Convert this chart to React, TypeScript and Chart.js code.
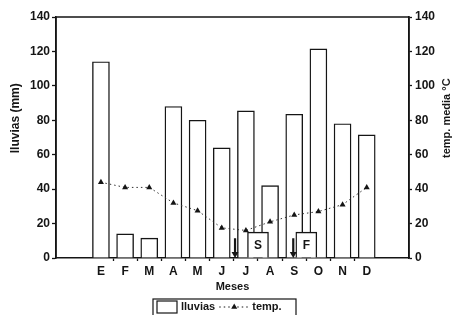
import React, { useEffect, useRef } from 'react';
import { Chart, registerables } from 'chart.js';

Chart.register(...registerables);

// ---- data ----
const months = ['E', 'F', 'M', 'A', 'M', 'J', 'J', 'A', 'S', 'O', 'N', 'D'];
const rainfall = [114, 14, 11.5, 88, 80, 64, 85.5, 42, 83.5, 121.5, 78, 71.5];
const temperature = [44, 41, 41, 32, 27.5, 17.5, 16, 21, 25, 27, 31, 41];
const periodLabels = ['S', 'F'];
const periodPositions = [6.5, 8.5];
const periodHeights = [15, 15];
const arrowPositions = [5.55, 7.96];
const arrowTop = 11.5;
const arrowTip = 2.3;
const xMin = -1.86;
const xMax = 12.75;
const yMin = 0;
const yMax = 140;
const yStep = 20;
const xTitle = 'Meses';
const yLeftTitle = 'lluvias (mm)';
const yRightTitle = 'temp. media °C';
const legendRain = 'lluvias';
const legendTemp = 'temp.';

const INK = '#151515';
const FONT = '"Liberation Sans", Arial, Helvetica, sans-serif';

const App = () => {
  const ref = useRef<HTMLCanvasElement | null>(null);

  useEffect(() => {
    if (!ref.current) return;
    Chart.defaults.font.family = FONT;

    const boxLabelPlugin = {
      id: 'boxLabels',
      afterDatasetsDraw(chart: any) {
        const meta = chart.getDatasetMeta(2);
        const ctx = chart.ctx;
        ctx.save();
        ctx.fillStyle = INK;
        ctx.font = `bold 12px ${FONT}`;
        ctx.textAlign = 'center';
        ctx.textBaseline = 'middle';
        meta.data.forEach((el: any, i: number) => {
          ctx.fillText(periodLabels[i], el.x, (el.y + el.base) / 2 + 1);
        });
        ctx.restore();
      },
    };

    const framePlugin = {
      id: 'frame',
      afterDatasetsDraw(chart: any) {
        const { left, right, top, bottom } = chart.chartArea;
        const ctx = chart.ctx;
        ctx.save();
        ctx.strokeStyle = INK;
        ctx.lineWidth = 1.5;
        ctx.beginPath();
        ctx.moveTo(left, bottom);
        ctx.lineTo(left, top);
        ctx.lineTo(right, top);
        ctx.lineTo(right, bottom);
        ctx.stroke();
        ctx.restore();
      },
    };

    const titlesPlugin = {
      id: 'titles',
      afterDraw(chart: any) {
        const ctx = chart.ctx;
        const { top, bottom } = chart.chartArea;
        const cy = top + (bottom - top) * 0.42;
        ctx.save();
        ctx.fillStyle = INK;
        ctx.textAlign = 'center';
        ctx.textBaseline = 'middle';
        ctx.font = `bold 12px ${FONT}`;
        ctx.translate(16, cy);
        ctx.rotate(-Math.PI / 2);
        ctx.fillText(yLeftTitle, 0, 0);
        ctx.restore();
        ctx.save();
        ctx.fillStyle = INK;
        ctx.textAlign = 'center';
        ctx.textBaseline = 'middle';
        ctx.font = `bold 11px ${FONT}`;
        ctx.translate(chart.width - 5, cy);
        ctx.rotate(-Math.PI / 2);
        ctx.fillText(yRightTitle, 0, 0);
        ctx.restore();
      },
    };

    const legendPlugin = {
      id: 'customLegend',
      afterDraw(chart: any) {
        const ctx = chart.ctx;
        ctx.save();
        ctx.font = `bold 11px ${FONT}`;
        const boxW = 143;
        const boxTop = chart.chartArea.bottom + 41;
        const boxLeft = chart.width / 2 - 1.5 - boxW / 2;
        const cy = boxTop + 8;
        ctx.strokeStyle = INK;
        ctx.lineWidth = 1.2;
        ctx.strokeRect(boxLeft, boxTop, boxW, 30);
        let x = boxLeft + 4;
        // rain swatch
        ctx.fillStyle = '#fff';
        ctx.fillRect(x, boxTop + 2, 20, 12);
        ctx.strokeRect(x, boxTop + 2, 20, 12);
        x += 24;
        ctx.fillStyle = INK;
        ctx.textAlign = 'left';
        ctx.textBaseline = 'middle';
        ctx.fillText(legendRain, x, cy);
        x += ctx.measureText(legendRain).width + 4;
        // temp sample
        ctx.setLineDash([1.5, 3]);
        ctx.lineWidth = 1;
        ctx.beginPath();
        ctx.moveTo(x, cy);
        ctx.lineTo(x + 30, cy);
        ctx.stroke();
        ctx.setLineDash([]);
        const tx = x + 15;
        const r = 3.5;
        ctx.beginPath();
        ctx.moveTo(tx, cy - r);
        ctx.lineTo(tx + r * 0.866, cy + r / 2);
        ctx.lineTo(tx - r * 0.866, cy + r / 2);
        ctx.closePath();
        ctx.fill();
        x += 33;
        ctx.fillText(legendTemp, x, cy);
        ctx.restore();
      },
    };

    const halfTicks: number[] = [];
    for (let i = 0; i < months.length; i++) {
      halfTicks.push(i);
      if (i < months.length - 1) halfTicks.push(i + 0.5);
    }

    const arrowDatasets = arrowPositions.map((p) => ({
      type: 'line' as const,
      label: 'arrow',
      data: [
        { x: p, y: arrowTop },
        { x: p, y: arrowTip },
      ],
      yAxisID: 'yL',
      borderColor: INK,
      borderWidth: 2.2,
      pointRadius: [0, 4],
      pointStyle: 'triangle',
      rotation: 180,
      pointBackgroundColor: INK,
      pointBorderColor: INK,
      pointBorderWidth: 0,
      order: 0,
    }));

    const chart = new Chart(ref.current, {
      data: {
        datasets: [
          {
            type: 'bar',
            label: legendRain,
            data: rainfall.map((v, i) => ({ x: i, y: v })),
            yAxisID: 'yL',
            backgroundColor: '#ffffff',
            borderColor: INK,
            borderWidth: 1.4,
            barThickness: 17,
            grouped: false,
            order: 3,
          },
          {
            type: 'line',
            label: legendTemp,
            data: temperature.map((v, i) => ({ x: i, y: v })),
            yAxisID: 'yR',
            borderColor: '#333',
            borderWidth: 1,
            borderDash: [1.5, 3],
            pointStyle: 'triangle',
            pointRadius: 3.5,
            pointBackgroundColor: INK,
            pointBorderColor: INK,
            pointBorderWidth: 0,
            tension: 0,
            order: 2,
          },
          {
            type: 'bar',
            label: 'periodos',
            data: periodPositions.map((p, i) => ({ x: p, y: periodHeights[i] })),
            yAxisID: 'yL',
            backgroundColor: '#ffffff',
            borderColor: INK,
            borderWidth: 1.4,
            barThickness: 21,
            grouped: false,
            order: 1,
          },
          ...arrowDatasets,
        ] as any,
      },
      options: {
        responsive: false,
        animation: false,
        devicePixelRatio: 1,
        layout: { padding: { top: 17, bottom: 16, left: 0, right: 0 } },
        plugins: {
          legend: { display: false },
          tooltip: { enabled: false },
        },
        scales: {
          x: {
            type: 'linear',
            offset: false,
            min: xMin,
            max: xMax,
            afterBuildTicks: (scale: any) => {
              scale.ticks = halfTicks.map((v) => ({ value: v }));
            },
            afterFit: (scale: any) => {
              scale.height = 41;
            },
            ticks: {
              autoSkip: false,
              maxRotation: 0,
              padding: 3,
              color: INK,
              font: { size: 12, weight: 'bold' },
              callback: (value: any) => {
                const v = Number(value);
                return Number.isInteger(v) && v >= 0 && v < months.length ? months[v] : '';
              },
            },
            grid: {
              offset: false,
              drawOnChartArea: false,
              drawTicks: true,
              tickLength: 3,
              tickWidth: 1.3,
              tickColor: (ctx: any) =>
                ctx.tick && Number.isInteger(ctx.tick.value) ? 'rgba(0,0,0,0)' : INK,
            },
            border: { display: true, color: INK, width: 1.5 },
            title: {
              display: true,
              text: xTitle,
              color: INK,
              font: { size: 11, weight: 'bold' },
              padding: { top: 0, bottom: 5 },
            },
          },
          yL: {
            type: 'linear',
            position: 'left',
            min: yMin,
            max: yMax,
            afterFit: (scale: any) => {
              scale.width = 56;
            },
            ticks: {
              stepSize: yStep,
              padding: 2,
              color: INK,
              font: { size: 12, weight: 'bold' },
            },
            grid: {
              drawOnChartArea: false,
              drawTicks: true,
              tickLength: 4,
              tickWidth: 1.3,
              tickColor: INK,
            },
            border: { display: true, color: INK, width: 1.5 },
          },
          yR: {
            type: 'linear',
            position: 'right',
            min: yMin,
            max: yMax,
            afterFit: (scale: any) => {
              scale.width = 43;
            },
            ticks: {
              stepSize: yStep,
              padding: 3,
              color: INK,
              font: { size: 12, weight: 'bold' },
            },
            grid: {
              drawOnChartArea: false,
              drawTicks: true,
              tickLength: 3,
              tickWidth: 1.3,
              tickColor: INK,
            },
            border: { display: true, color: INK, width: 1.5 },
          },
        },
      } as any,
      plugins: [boxLabelPlugin, framePlugin, titlesPlugin, legendPlugin],
    });

    return () => chart.destroy();
  }, []);

  return (
    <canvas
      ref={ref}
      width={452}
      height={315}
      style={{ position: 'fixed', left: 0, top: 0, width: 452, height: 315, background: '#fff' }}
    />
  );
};

export default App;
